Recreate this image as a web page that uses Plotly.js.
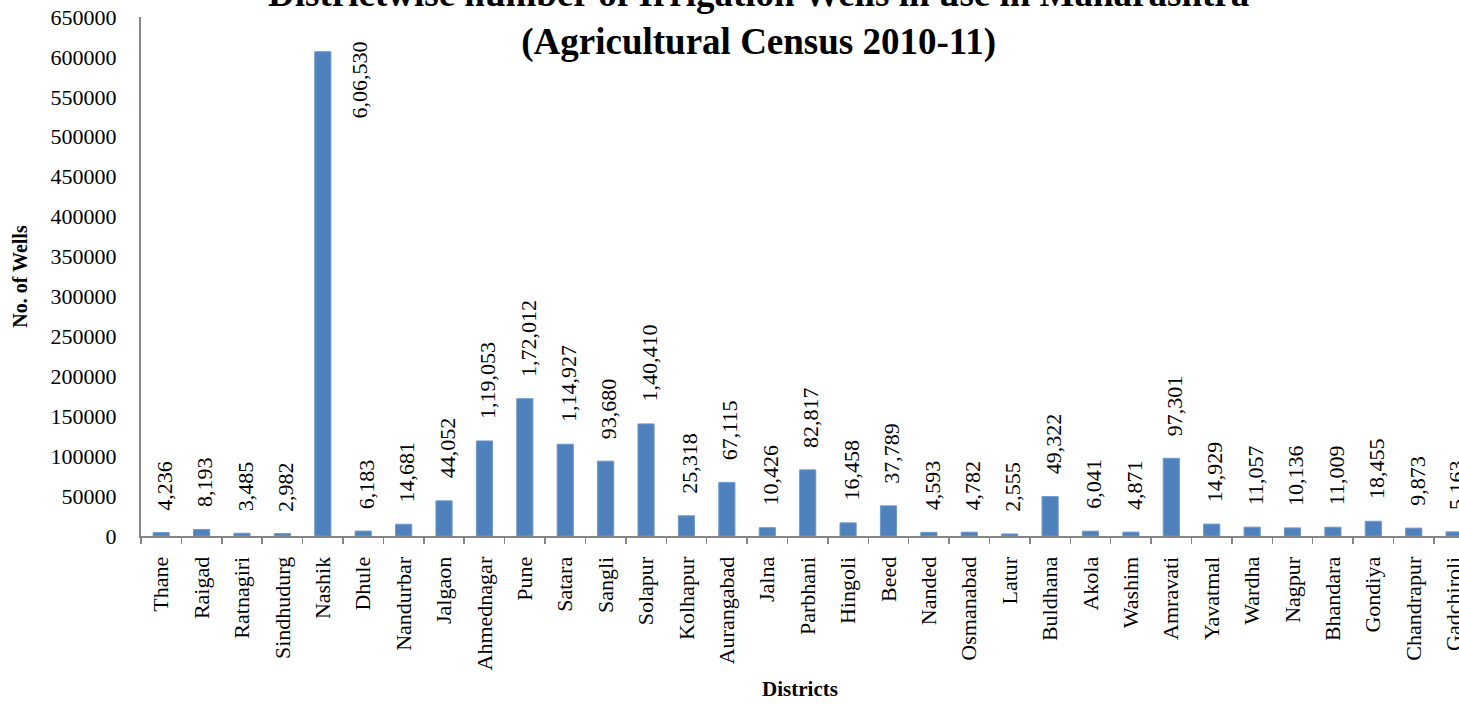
<!DOCTYPE html>
<html>
<head>
<meta charset="utf-8">
<script src="https://cdn.plot.ly/plotly-3.0.1.min.js"></script>
<style>html,body{margin:0;padding:0;background:#fff;}#chart{width:1459px;height:706px;}</style>
</head>
<body>
<div id="chart"></div>
<script>
const districts = ["Thane","Raigad","Ratnagiri","Sindhudurg","Nashik","Dhule","Nandurbar","Jalgaon","Ahmednagar","Pune","Satara","Sangli","Solapur","Kolhapur","Aurangabad","Jalna","Parbhani","Hingoli","Beed","Nanded","Osmanabad","Latur","Buldhana","Akola","Washim","Amravati","Yavatmal","Wardha","Nagpur","Bhandara","Gondiya","Chandrapur","Gadchiroli"];
const wells = [4236,8193,3485,2982,606530,6183,14681,44052,119053,172012,114927,93680,140410,25318,67115,10426,82817,16458,37789,4593,4782,2555,49322,6041,4871,97301,14929,11057,10136,11009,18455,9873,5163];
const yTicks = [0,50000,100000,150000,200000,250000,300000,350000,400000,450000,500000,550000,600000,650000];

function indianFormat(n){
  const s = String(n);
  if (s.length <= 3) return s;
  const last3 = s.slice(-3);
  let rest = s.slice(0,-3);
  const parts = [];
  while (rest.length > 2){ parts.unshift(rest.slice(-2)); rest = rest.slice(0,-2); }
  if (rest.length) parts.unshift(rest);
  return parts.join(',') + ',' + last3;
}

const FONT = 'Liberation Serif, Times New Roman, serif';
const yMax = 650000;

const annotations = wells.map((v,i) => {
  const big = v > 0.8*yMax;
  return {
    x: districts[i], y: v, xref: 'x', yref: 'y',
    text: indianFormat(v), textangle: -90, showarrow: false,
    font: {family: FONT, size: 22, color: '#000'},
    xanchor: big ? 'left' : 'center',
    yanchor: big ? 'top' : 'bottom',
    xshift: big ? 22 : 3,
    yshift: big ? 12 : 20
  };
});

const trace = {
  type: 'bar', x: districts, y: wells,
  marker: {color: '#4F81BD', line: {color: '#6F99CB', width: 1}},
  hoverinfo: 'x+y'
};

const layout = {
  width: 1459, height: 706,
  margin: {l: 141, r: 0, t: 17, b: 170},
  paper_bgcolor: '#fff', plot_bgcolor: '#fff',
  bargap: 0.6,
  showlegend: false,
  font: {family: FONT, color: '#000'},
  title: {
    text: '<b>Districtwise number of Irrigation Wells in use in Maharashtra<br>(Agricultural Census 2010-11)</b>',
    font: {family: FONT, size: 37, color: '#000'},
    xref: 'container', x: 0.52, xanchor: 'center',
    yref: 'container', y: 0.992, yanchor: 'middle'
  },
  xaxis: {
    type: 'category',
    range: [-0.5, 32.12],
    tickangle: -90,
    tickfont: {family: FONT, size: 22, color: '#000'},
    ticks: 'outside', tickson: 'boundaries', ticklen: 6, tickcolor: '#868686', tickwidth: 1.5,
    showline: true, linecolor: '#868686', linewidth: 2,
    showgrid: false, zeroline: false,
    ticklabelstandoff: 10,
    title: {text: '<b>Districts</b>', font: {family: FONT, size: 21, color: '#000'}, standoff: 12}
  },
  yaxis: {
    range: [0, yMax],
    tickvals: yTicks,
    ticktext: yTicks.map(String),
    tickfont: {family: FONT, size: 22, color: '#000'},
    ticks: '', ticklabelstandoff: 18,
    showline: true, linecolor: '#868686', linewidth: 2,
    showgrid: false, zeroline: false,
    title: {text: '<b>No. of Wells</b>', font: {family: FONT, size: 20, color: '#000'}, standoff: 18}
  },
  annotations: annotations
};

Plotly.newPlot('chart', [trace], layout, {displayModeBar: false, staticPlot: true});
</script>
</body>
</html>
